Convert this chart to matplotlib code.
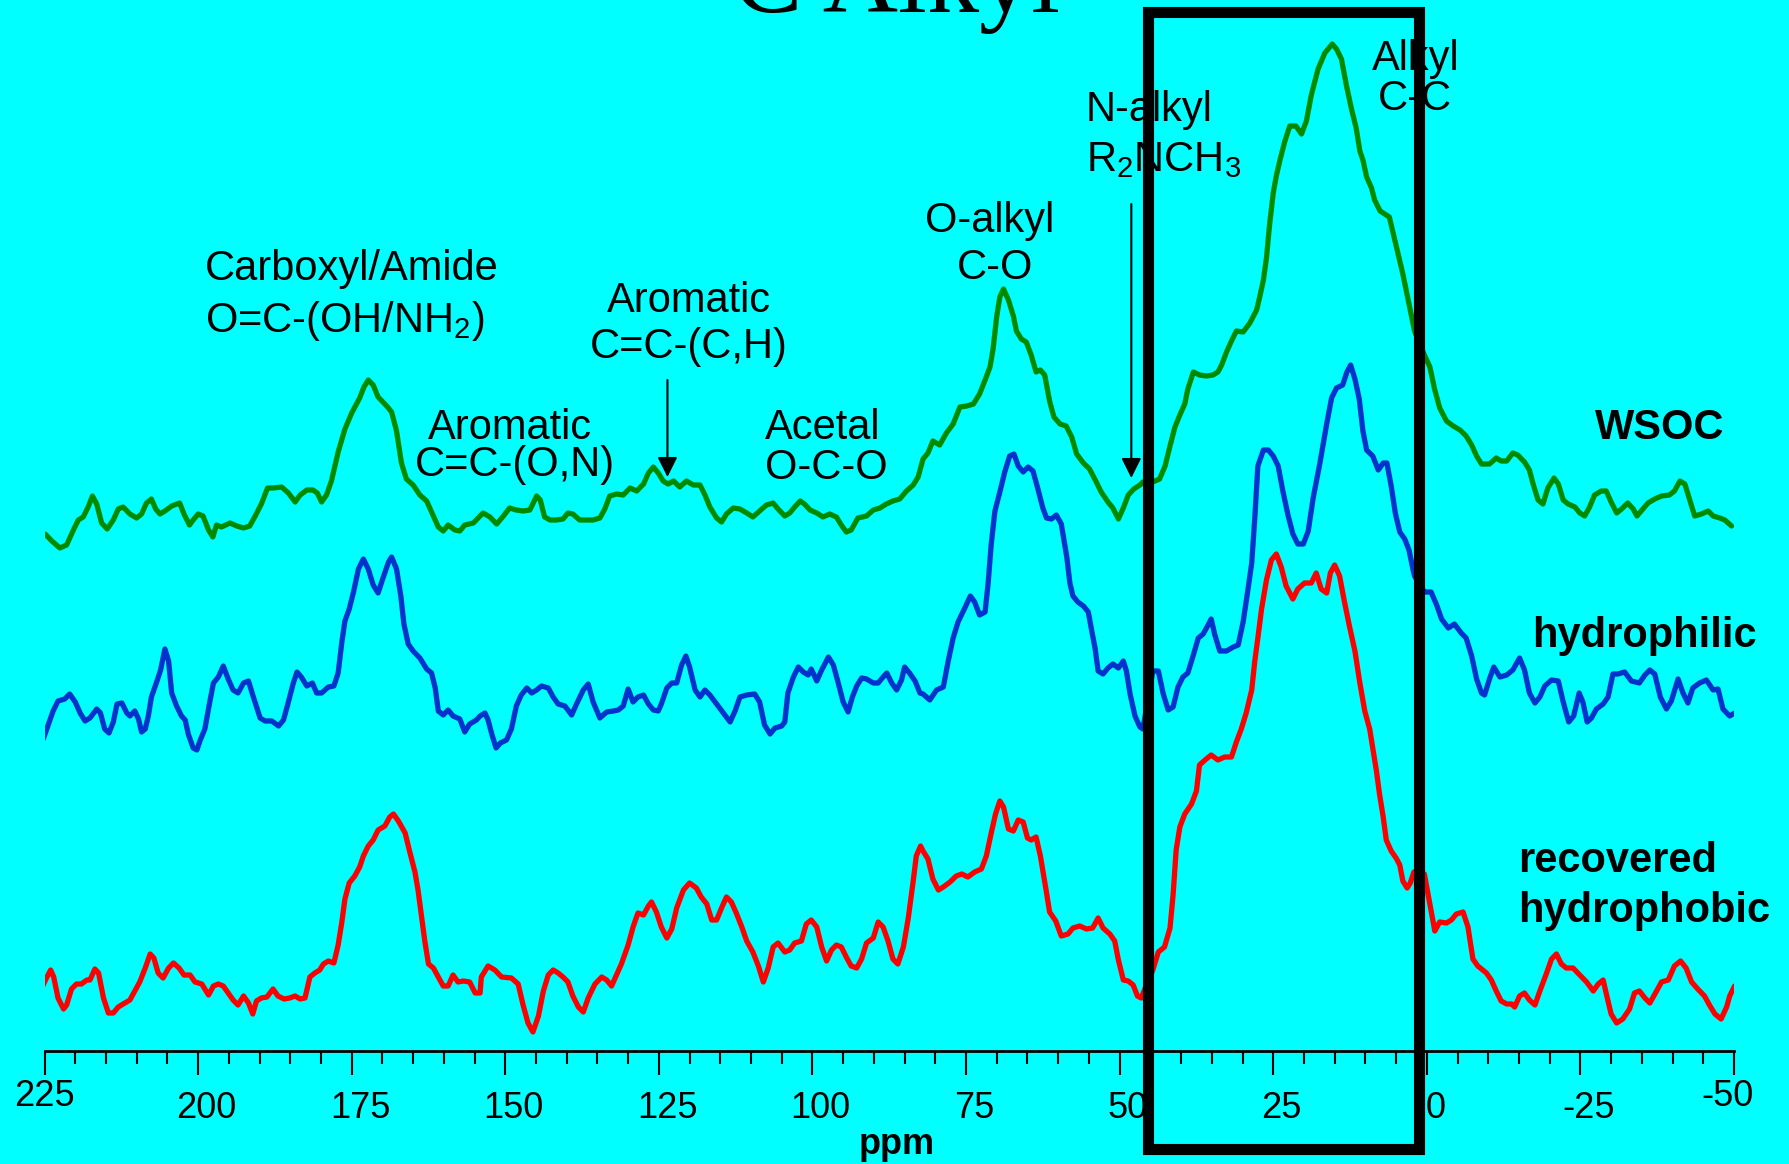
import numpy as np
import matplotlib.pyplot as plt
import matplotlib.transforms as mtransforms
from matplotlib.patches import Rectangle

plt.rcParams['font.family'] = ['Liberation Sans', 'DejaVu Sans']
plt.rcParams['mathtext.fontset'] = 'custom'
plt.rcParams['mathtext.rm'] = 'Liberation Sans'
plt.rcParams['mathtext.default'] = 'regular'

# 13C NMR spectra, chemical shift (ppm) vs. stacked intensity (a.u.)
wsoc = [
    (224.9, 517), (223.8, 510), (222.5, 503), (221.4, 506), (220.3, 521), (219.5, 531), (218.7, 534),
    (217.9, 544), (217.2, 555), (216.5, 547), (215.7, 528), (214.8, 522), (213.8, 531), (213.0, 542),
    (212.2, 544), (211.1, 537), (210.0, 533), (209.2, 537), (208.4, 548), (207.6, 552), (206.9, 542),
    (206.2, 537), (205.4, 540), (204.3, 545), (203.0, 548), (202.3, 537), (201.4, 526), (200.8, 531),
    (200.0, 537), (199.2, 535), (198.3, 521), (197.6, 514), (197.0, 526), (196.2, 524), (194.8, 528),
    (193.7, 525), (192.6, 523), (191.6, 525), (190.7, 535), (189.7, 547), (188.7, 563), (187.8, 563),
    (186.4, 564), (185.3, 558), (184.2, 549), (183.4, 556), (182.3, 561), (181.3, 561), (180.6, 558),
    (179.9, 549), (179.1, 556), (178.3, 570), (177.7, 586), (177.2, 599), (176.1, 622), (175.0, 638),
    (173.7, 653), (173.0, 664), (172.3, 671), (171.5, 666), (170.7, 654), (169.3, 645), (168.5, 639),
    (167.7, 620), (166.9, 588), (166.1, 572), (165.0, 566), (163.9, 556), (162.8, 550), (161.7, 535),
    (160.9, 524), (160.1, 520), (159.3, 526), (158.2, 521), (157.4, 520), (156.6, 526), (155.2, 528),
    (154.1, 535), (153.6, 538), (152.5, 534), (151.4, 527), (150.3, 535), (149.3, 543), (148.2, 541),
    (147.1, 540), (146.0, 541), (144.9, 555), (144.3, 551), (143.6, 534), (142.7, 531), (141.7, 531),
    (140.6, 532), (139.8, 538), (139.0, 537), (137.9, 531), (136.8, 531), (135.7, 531), (134.6, 533),
    (133.8, 542), (133.0, 555), (131.9, 557), (130.8, 556), (129.7, 563), (128.6, 560), (127.5, 567),
    (126.7, 578), (125.9, 584), (125.1, 578), (124.3, 570), (123.5, 567), (122.6, 570), (121.6, 564),
    (120.5, 570), (119.4, 566), (118.3, 566), (117.5, 556), (116.7, 544), (115.6, 533), (114.8, 529),
    (114.0, 537), (112.9, 543), (111.8, 542), (110.7, 538), (109.7, 534), (108.6, 540), (107.5, 546),
    (106.4, 548), (105.6, 542), (104.5, 535), (103.7, 538), (102.9, 544), (102.0, 550), (101.3, 547),
    (100.4, 541), (99.3, 538), (98.3, 534), (97.2, 537), (96.1, 534), (95.3, 526), (94.5, 519),
    (93.7, 521), (92.6, 533), (91.2, 535), (90.1, 541), (89.0, 543), (88.0, 547), (86.9, 550),
    (85.8, 552), (84.7, 560), (83.6, 566), (82.8, 574), (82.0, 592), (81.2, 598), (80.4, 610),
    (79.3, 606), (78.2, 618), (77.1, 627), (76.0, 644), (74.9, 645), (73.8, 647), (72.8, 657),
    (71.9, 671), (71.1, 684), (70.6, 702), (70.0, 735), (69.5, 754), (68.9, 762), (68.1, 751),
    (67.3, 735), (66.8, 720), (66.0, 712), (65.2, 709), (64.4, 696), (63.6, 679), (62.9, 681),
    (62.2, 676), (61.4, 650), (60.7, 634), (59.7, 627), (58.7, 625), (57.8, 614), (57.0, 597),
    (55.9, 588), (54.9, 582), (53.8, 569), (53.0, 559), (51.9, 549), (51.1, 543), (50.2, 532),
    (49.4, 543), (48.6, 556), (47.7, 562), (46.7, 566), (46.2, 569), (44.6, 569), (43.5, 572),
    (42.6, 585), (41.8, 605), (41.0, 624), (40.2, 636), (39.4, 647), (38.9, 662), (38.0, 679),
    (37.0, 676), (35.9, 675), (34.8, 676), (34.0, 679), (33.4, 686), (32.6, 699), (31.8, 710),
    (31.0, 720), (29.9, 719), (28.8, 728), (27.7, 741), (27.2, 754), (26.6, 771), (26.1, 793),
    (25.6, 826), (25.0, 858), (24.5, 875), (23.9, 891), (23.1, 910), (22.3, 925), (21.3, 925),
    (20.4, 917), (19.6, 930), (18.8, 956), (17.7, 982), (16.6, 998), (15.4, 1007), (14.7, 1002),
    (13.9, 992), (13.1, 966), (12.3, 943), (11.5, 923), (10.9, 900), (10.4, 891), (9.8, 874),
    (9.0, 863), (8.5, 851), (7.6, 840), (6.1, 834), (3.9, 777), (2.0, 720), (0.4, 696),
    (-0.5, 684), (-1.3, 661), (-2.1, 643), (-3.2, 630), (-4.3, 625), (-5.4, 621), (-6.4, 615),
    (-7.3, 606), (-8.1, 595), (-8.9, 587), (-10.2, 587), (-11.3, 593), (-12.1, 590), (-13.0, 590),
    (-14.0, 598), (-14.8, 596), (-15.9, 589), (-16.7, 581), (-17.3, 567), (-18.1, 551), (-18.9, 547),
    (-19.7, 563), (-20.7, 573), (-21.4, 567), (-22.2, 551), (-23.0, 547), (-24.1, 544), (-24.9, 538),
    (-25.7, 535), (-26.5, 544), (-27.3, 556), (-28.4, 560), (-29.2, 560), (-30.0, 549), (-30.9, 538),
    (-31.7, 542), (-32.7, 548), (-33.6, 542), (-34.2, 535), (-34.9, 540), (-36.0, 548), (-37.1, 552),
    (-38.2, 555), (-39.5, 556), (-40.3, 560), (-41.2, 570), (-42.0, 567), (-42.8, 551), (-43.6, 535),
    (-44.7, 537), (-45.8, 540), (-46.6, 535), (-47.7, 533), (-48.5, 531), (-49.6, 525),
]

hydrophilic = [
    (225.2, 312), (224.4, 326), (223.6, 340), (222.8, 350), (221.7, 352), (220.9, 357), (220.0, 349),
    (219.2, 338), (218.4, 330), (217.6, 333), (216.5, 342), (215.9, 338), (215.2, 322), (214.5, 318),
    (213.8, 329), (213.2, 347), (212.4, 348), (211.6, 338), (211.1, 335), (210.3, 340), (209.7, 332),
    (209.2, 319), (208.6, 322), (208.1, 335), (207.6, 354), (206.8, 368), (206.1, 381), (205.4, 402),
    (204.8, 390), (204.3, 358), (203.5, 345), (202.7, 335), (202.1, 331), (201.6, 317), (200.8, 303),
    (200.2, 301), (199.7, 310), (198.9, 322), (198.1, 349), (197.5, 368), (196.7, 374), (195.9, 385),
    (195.1, 372), (194.3, 361), (193.5, 358), (192.6, 368), (191.8, 370), (191.0, 354), (189.9, 333),
    (189.1, 330), (188.0, 330), (186.9, 325), (186.1, 331), (185.3, 349), (184.5, 368), (183.9, 379),
    (183.2, 374), (182.3, 365), (181.4, 368), (180.7, 358), (179.9, 358), (178.8, 364), (177.9, 365),
    (177.2, 378), (176.6, 409), (176.1, 430), (175.4, 442), (174.7, 459), (173.9, 482), (173.1, 492),
    (172.3, 482), (171.5, 466), (170.7, 458), (169.9, 473), (169.0, 489), (168.5, 494), (167.7, 482),
    (167.0, 455), (166.5, 427), (165.8, 407), (165.0, 400), (163.9, 393), (162.8, 382), (162.0, 378),
    (161.4, 363), (160.9, 340), (160.1, 336), (159.3, 341), (158.5, 335), (157.4, 332), (156.6, 319),
    (155.8, 327), (154.7, 331), (154.1, 335), (153.3, 338), (152.8, 331), (152.2, 317), (151.5, 303),
    (150.8, 308), (149.8, 311), (149.0, 322), (148.2, 345), (147.4, 356), (146.5, 363), (145.7, 358),
    (144.9, 361), (144.1, 365), (143.0, 363), (142.2, 354), (141.4, 347), (140.3, 345), (139.2, 336),
    (138.4, 347), (137.3, 361), (136.5, 367), (135.7, 349), (134.6, 333), (133.5, 339), (132.4, 340),
    (131.6, 341), (130.8, 345), (130.0, 362), (129.2, 349), (128.4, 354), (127.5, 356), (126.7, 347),
    (125.9, 341), (125.1, 340), (124.6, 347), (123.7, 363), (122.9, 368), (122.1, 368), (121.3, 386),
    (120.6, 395), (120.0, 384), (119.1, 361), (118.3, 354), (117.5, 361), (116.7, 356), (115.6, 347),
    (114.5, 338), (113.4, 329), (112.6, 340), (111.8, 354), (110.7, 356), (109.4, 357), (108.6, 349),
    (107.8, 326), (106.9, 317), (106.1, 323), (105.0, 325), (104.5, 329), (104.0, 358), (103.1, 374),
    (102.3, 384), (101.5, 379), (100.7, 376), (100.2, 382), (99.3, 370), (98.5, 381), (97.4, 394),
    (96.6, 386), (95.8, 368), (95.0, 349), (94.2, 339), (93.5, 354), (92.8, 365), (92.0, 373),
    (91.2, 372), (90.1, 368), (89.3, 368), (88.5, 374), (87.9, 378), (87.1, 368), (86.3, 361),
    (85.5, 371), (85.0, 384), (84.2, 378), (83.3, 370), (82.5, 358), (82.0, 357), (80.9, 351),
    (79.8, 361), (78.7, 364), (77.9, 390), (77.1, 413), (76.3, 429), (75.2, 443), (74.3, 455),
    (73.6, 449), (72.8, 436), (71.9, 439), (71.4, 468), (70.9, 507), (70.3, 540), (69.5, 559),
    (68.7, 579), (67.9, 595), (67.2, 597), (66.5, 585), (65.7, 579), (64.9, 584), (64.1, 580),
    (63.3, 562), (62.5, 543), (61.9, 533), (61.1, 532), (60.3, 536), (59.5, 527), (58.6, 494),
    (58.1, 468), (57.6, 455), (56.8, 449), (55.9, 445), (55.1, 439), (54.6, 422), (54.0, 403),
    (53.5, 380), (52.7, 377), (51.9, 383), (51.1, 387), (50.2, 383), (49.4, 390), (48.9, 380),
    (48.3, 357), (47.5, 335), (46.7, 324), (46.2, 322), (44.6, 380), (43.7, 380), (42.9, 357),
    (42.1, 341), (41.3, 344), (40.5, 364), (39.7, 374), (38.9, 378), (38.0, 396), (37.2, 413),
    (36.4, 417), (35.6, 426), (35.1, 432), (34.5, 416), (33.7, 400), (32.6, 400), (31.5, 404),
    (30.7, 406), (29.9, 429), (29.1, 462), (28.5, 488), (28.0, 533), (27.5, 585), (26.6, 601),
    (25.8, 601), (25.0, 595), (24.2, 585), (23.4, 559), (22.6, 536), (21.8, 517), (21.0, 507),
    (20.1, 507), (19.3, 520), (18.5, 553), (17.4, 588), (16.3, 627), (15.5, 653), (14.7, 663),
    (13.7, 666), (13.0, 679), (12.4, 686), (11.7, 672), (11.0, 652), (10.4, 620), (9.8, 601),
    (8.8, 595), (7.9, 581), (7.1, 588), (6.5, 588), (5.8, 565), (5.1, 537), (4.4, 519), (3.6, 512),
    (2.9, 501), (2.2, 480), (2.0, 475), (0.4, 459), (-0.7, 459), (-1.6, 446), (-2.4, 432),
    (-3.5, 423), (-4.5, 427), (-5.6, 418), (-6.4, 413), (-7.3, 395), (-8.1, 372), (-8.9, 358),
    (-9.4, 356), (-10.2, 372), (-10.9, 384), (-11.9, 374), (-13.0, 376), (-14.0, 381), (-15.1, 393),
    (-15.9, 381), (-16.7, 358), (-17.6, 348), (-18.4, 354), (-19.2, 365), (-20.3, 371), (-21.4, 370),
    (-22.2, 349), (-23.1, 329), (-23.9, 335), (-24.8, 358), (-25.4, 349), (-26.1, 329), (-26.8, 333),
    (-27.6, 342), (-28.7, 347), (-29.5, 354), (-30.3, 377), (-31.1, 377), (-32.2, 379), (-33.3, 370),
    (-34.6, 368), (-35.5, 376), (-36.3, 381), (-37.1, 377), (-38.0, 354), (-39.0, 342), (-39.8, 350),
    (-40.9, 372), (-41.7, 358), (-42.5, 348), (-43.3, 363), (-44.4, 368), (-45.5, 371), (-46.6, 361),
    (-47.4, 362), (-48.2, 342), (-49.3, 335), (-50.1, 338),
]

hydrophobic = [
    (225.3, 65), (224.6, 74), (224.0, 81), (223.5, 74), (222.8, 53), (221.9, 42), (221.4, 46),
    (220.6, 62), (219.8, 67), (219.0, 67), (218.1, 71), (217.6, 71), (216.8, 82), (216.2, 78),
    (215.4, 53), (214.6, 38), (213.8, 38), (213.0, 44), (211.9, 48), (211.1, 51), (210.3, 60),
    (209.5, 69), (208.6, 83), (207.8, 97), (207.2, 93), (206.5, 78), (205.7, 73), (204.8, 83),
    (204.0, 88), (203.1, 83), (202.3, 76), (201.3, 76), (200.5, 69), (199.4, 67), (198.3, 56),
    (197.5, 65), (196.7, 67), (195.9, 65), (195.1, 58), (194.3, 51), (193.5, 46), (192.6, 55),
    (191.8, 48), (191.1, 37), (190.5, 50), (189.7, 53), (188.8, 54), (187.8, 62), (187.0, 55),
    (186.0, 52), (185.1, 53), (184.2, 55), (183.4, 52), (182.6, 53), (181.8, 74), (181.0, 78),
    (180.2, 81), (179.6, 87), (178.8, 90), (177.9, 88), (177.2, 106), (176.6, 129), (176.1, 152),
    (175.4, 168), (174.5, 175), (173.7, 184), (173.1, 195), (172.3, 205), (171.5, 211), (170.7, 221),
    (169.6, 225), (168.8, 234), (168.2, 237), (167.4, 230), (166.3, 218), (165.5, 198), (164.7, 179),
    (164.2, 161), (163.6, 133), (163.1, 110), (162.5, 87), (161.7, 83), (160.9, 74), (160.1, 65),
    (159.3, 65), (158.5, 76), (157.7, 69), (156.8, 70), (155.8, 69), (154.9, 58), (154.1, 58),
    (153.9, 74), (152.8, 85), (151.7, 81), (150.6, 74), (149.0, 73), (147.9, 67), (147.1, 46),
    (146.3, 28), (145.5, 19), (144.6, 35), (143.8, 60), (143.0, 76), (142.2, 81), (141.4, 78),
    (140.6, 74), (139.8, 69), (139.0, 55), (138.1, 44), (137.3, 39), (136.5, 53), (135.4, 67),
    (134.3, 74), (133.5, 71), (132.7, 65), (131.9, 76), (131.1, 87), (130.0, 106), (129.2, 124),
    (128.4, 138), (127.5, 136), (126.7, 145), (126.2, 149), (125.4, 139), (124.6, 124), (123.7, 113),
    (122.9, 122), (122.1, 143), (121.0, 161), (120.0, 168), (118.9, 163), (118.1, 154), (117.2, 147),
    (116.4, 131), (115.6, 131), (114.8, 143), (114.0, 154), (113.2, 149), (112.4, 138), (111.5, 124),
    (110.7, 110), (109.7, 99), (108.8, 85), (108.0, 69), (107.2, 83), (106.4, 104), (105.6, 108),
    (104.5, 99), (103.7, 101), (102.9, 108), (101.8, 110), (101.0, 127), (100.2, 131), (99.3, 124),
    (98.5, 104), (97.7, 90), (96.9, 101), (96.1, 106), (95.3, 104), (94.5, 94), (93.7, 85),
    (92.8, 83), (92.0, 92), (91.2, 108), (90.1, 113), (89.3, 129), (88.5, 124), (87.7, 110),
    (86.9, 92), (86.1, 87), (85.2, 104), (84.4, 133), (83.6, 170), (83.1, 195), (82.4, 205),
    (82.0, 200), (81.2, 192), (80.4, 172), (79.5, 161), (78.7, 164), (77.6, 169), (76.6, 175),
    (75.7, 177), (74.7, 174), (73.6, 179), (72.5, 182), (71.7, 195), (70.9, 218), (70.2, 237),
    (69.5, 250), (68.9, 244), (68.1, 222), (67.3, 220), (66.5, 231), (65.7, 229), (65.0, 213),
    (64.4, 211), (63.6, 214), (62.9, 195), (62.0, 162), (61.4, 139), (60.4, 130), (59.5, 115),
    (58.4, 117), (57.6, 123), (56.5, 125), (55.4, 122), (54.4, 123), (53.5, 133), (52.7, 123),
    (51.6, 117), (50.8, 110), (50.2, 91), (49.4, 71), (48.6, 70), (47.8, 66), (47.1, 55),
    (46.5, 53), (44.6, 81), (43.7, 99), (42.7, 104), (41.8, 123), (41.3, 156), (40.8, 201),
    (40.2, 224), (39.4, 237), (38.3, 247), (37.5, 260), (37.0, 286), (36.1, 291), (35.1, 296),
    (34.0, 291), (32.9, 294), (31.8, 294), (31.0, 309), (30.2, 322), (29.4, 338), (28.5, 361),
    (28.0, 390), (27.5, 413), (26.9, 442), (26.1, 471), (25.3, 491), (24.5, 497), (23.7, 484),
    (22.9, 465), (21.8, 452), (21.0, 462), (19.9, 468), (18.8, 468), (18.0, 478), (17.2, 462),
    (16.3, 458), (15.7, 478), (15.0, 486), (14.2, 475), (13.4, 449), (12.6, 425), (11.7, 400),
    (10.9, 368), (10.1, 340), (9.3, 322), (8.8, 303), (8.2, 280), (7.7, 257), (7.1, 234),
    (6.6, 211), (5.8, 200), (5.0, 193), (4.4, 186), (3.9, 170), (3.2, 163), (2.7, 168), (2.1, 179),
    (0.4, 177), (-0.5, 147), (-1.3, 120), (-2.1, 129), (-3.2, 128), (-4.0, 131), (-4.8, 137),
    (-5.9, 139), (-6.7, 124), (-7.5, 92), (-8.3, 85), (-9.7, 78), (-10.5, 71), (-11.3, 60),
    (-12.1, 50), (-13.0, 47), (-13.8, 47), (-14.3, 44), (-15.1, 55), (-15.9, 58), (-16.7, 51),
    (-17.6, 46), (-18.4, 60), (-19.5, 78), (-20.3, 92), (-21.1, 97), (-21.9, 87), (-22.7, 83),
    (-23.8, 83), (-24.9, 76), (-26.0, 69), (-27.1, 60), (-27.9, 67), (-28.7, 71), (-29.3, 55),
    (-30.0, 37), (-30.9, 28), (-31.9, 32), (-33.0, 42), (-33.8, 58), (-34.6, 60), (-35.5, 53),
    (-36.3, 48), (-37.4, 60), (-38.2, 69), (-39.3, 71), (-40.3, 85), (-41.3, 90), (-42.2, 83),
    (-43.1, 69), (-44.1, 62), (-45.2, 55), (-46.0, 46), (-46.9, 37), (-47.9, 32), (-48.8, 44),
    (-49.3, 55), (-50.1, 65),
]

series_names = ['WSOC', 'hydrophilic', 'recovered\nhydrophobic']
series_colors = ['#008a00', '#0033cc', '#ff0000']

major_ticks = list(range(225, -51, -25))
minor_ticks = list(range(225, -51, -5))

# alkyl region highlighted by the box (ppm)
box_ppm = (45.4, 1.2)

bg = '#00ffff'
fig = plt.figure(figsize=(17.89, 11.64), dpi=100, facecolor=bg)
ax = fig.add_axes([44.5 / 1789, 113 / 1164, (1734 - 44.5) / 1789, 1051 / 1164])
ax.set_facecolor('none')

for data, col in zip([wsoc, hydrophilic, hydrophobic], series_colors):
    ppm, inten = np.array(data).T
    ax.plot(ppm, inten, color=col, lw=3.8, solid_joinstyle='round', solid_capstyle='round', zorder=3)

ax.set_xlim(225, -50)
ax.set_ylim(0, 1051)
for s in ['left', 'right', 'top']:
    ax.spines[s].set_visible(False)
ax.spines['bottom'].set_linewidth(2)
ax.set_yticks([])
ax.set_xticks(major_ticks)
ax.set_xticks(minor_ticks, minor=True)
ax.set_xticklabels([])
ax.tick_params(axis='x', which='major', direction='out', length=17, width=1.5, color='black')
ax.tick_params(axis='x', which='minor', direction='out', length=9, width=1.5, color='black')

# tick labels (end labels sit a little higher, as in the original slide)
bl = mtransforms.blended_transform_factory(ax.transData, fig.transFigure)
for v in major_ticks:
    if v == 225:
        dx, y = 0, 0.0498
    elif v == -50:
        dx, y = -5, 0.0498
    else:
        dx, y = 6, 0.0395
    tr = bl + mtransforms.ScaledTranslation(dx / 72, 0, fig.dpi_scale_trans)
    ax.text(v, y, str(v), transform=tr, ha='center', va='baseline', fontsize=26)

fig.text(0.5015, 0.0086, 'ppm', ha='center', va='baseline', fontsize=26, fontweight='bold')

# title, mostly cut off at the top edge
fig.text(0.501, 0.9897, 'C Alkyl', ha='center', va='baseline', fontsize=75,
         family='Liberation Serif')

# peak assignments
fs = 30
ax.text(198.9, 771, 'Carboxyl/Amide', fontsize=fs, ha='left', va='baseline')
ax.text(198.9, 719, 'O=C-(OH/NH$_2$)', fontsize=fs, ha='left', va='baseline')
ax.text(149.3, 612, 'Aromatic', fontsize=fs, ha='center', va='baseline')
ax.text(148.4, 575, 'C=C-(O,N)', fontsize=fs, ha='center', va='baseline')
ax.text(120.1, 739, 'Aromatic', fontsize=fs, ha='center', va='baseline')
ax.text(120.1, 693, 'C=C-(C,H)', fontsize=fs, ha='center', va='baseline')
ax.text(98.3, 612, 'Acetal', fontsize=fs, ha='center', va='baseline')
ax.text(97.8, 572, 'O-C-O', fontsize=fs, ha='center', va='baseline')
ax.text(71.1, 819, 'O-alkyl', fontsize=fs, ha='center', va='baseline')
ax.text(70.3, 772, 'C-O', fontsize=fs, ha='center', va='baseline')
ax.text(55.5, 930, 'N-alkyl', fontsize=fs, ha='left', va='baseline')
ax.text(55.5, 880, 'R$_2$NCH$_3$', fontsize=fs, ha='left', va='baseline')
ax.text(1.8, 981, 'Alkyl', fontsize=fs, ha='center', va='baseline')
ax.text(2.0, 941, 'C-C', fontsize=fs, ha='center', va='baseline')

arrow = dict(arrowstyle='-|>', color='black', lw=1.5, mutation_scale=30, shrinkA=0, shrinkB=0)
ax.annotate('', xy=(123.6, 574), xytext=(123.6, 671), arrowprops=arrow)
ax.annotate('', xy=(48.1, 573), xytext=(48.1, 847), arrowprops=arrow)

# sample labels
ax.text(-27.3, 612, series_names[0], fontsize=fs, fontweight='bold', ha='left', va='baseline')
ax.text(-17.1, 404, series_names[1], fontsize=fs, fontweight='bold', ha='left', va='baseline')
rec, hyd = series_names[2].split('\n')
ax.text(-14.8, 179, rec, fontsize=fs, fontweight='bold', ha='left', va='baseline')
ax.text(-14.8, 129, hyd, fontsize=fs, fontweight='bold', ha='left', va='baseline')

# black box around the alkyl region, spanning beyond the axes
box = Rectangle((box_ppm[0], 0.0133), box_ppm[1] - box_ppm[0], 0.9893 - 0.0133,
                transform=bl, fill=False, edgecolor='black', lw=8, joinstyle='miter',
                clip_on=False, zorder=10)
ax.add_patch(box)

fig.savefig('out.png', dpi=100, facecolor=bg)
